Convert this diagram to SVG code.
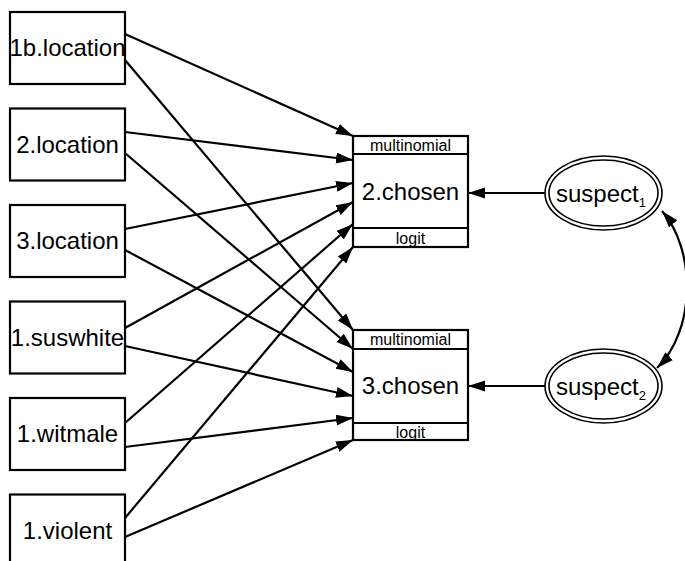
<svg xmlns="http://www.w3.org/2000/svg" width="685" height="561" viewBox="0 0 685 561">
<style>
.box{fill:#fff;stroke:#000;stroke-width:2.2}
.t{font-family:"Liberation Sans",Arial,sans-serif;font-size:24px;fill:#000;text-anchor:middle}
.s{font-family:"Liberation Sans",Arial,sans-serif;font-size:16px;fill:#000;text-anchor:middle}
.sub{font-size:13px}
.e{fill:none;stroke:#000;stroke-width:2.2;marker-end:url(#ah)}
.c{fill:none;stroke:#000;stroke-width:2.2;marker-start:url(#ah);marker-end:url(#ah)}
</style>
<defs>
<marker id="ah" markerWidth="19" markerHeight="12" refX="17" refY="5.5" orient="auto-start-reverse" markerUnits="userSpaceOnUse">
<path d="M0,0 L17,5.5 L0,11 z" fill="#000"/>
</marker>
</defs>
<rect width="685" height="561" fill="#fff"/>
<g id="connectors">
<line class="e" x1="125" y1="34" x2="353" y2="136"/>
<line class="e" x1="125" y1="60" x2="353" y2="330"/>
<line class="e" x1="125" y1="132" x2="353" y2="160"/>
<line class="e" x1="125" y1="153" x2="353" y2="349"/>
<line class="e" x1="125" y1="229" x2="353" y2="183"/>
<line class="e" x1="125" y1="250" x2="353" y2="372"/>
<line class="e" x1="125" y1="328" x2="353" y2="202"/>
<line class="e" x1="125" y1="346" x2="353" y2="396"/>
<line class="e" x1="125" y1="423" x2="353" y2="224"/>
<line class="e" x1="125" y1="447" x2="353" y2="418"/>
<line class="e" x1="125" y1="518" x2="353" y2="247"/>
<line class="e" x1="125" y1="537" x2="353" y2="440"/>
<line class="e" x1="545" y1="193" x2="468" y2="193"/>
<line class="e" x1="545" y1="386" x2="468" y2="386"/>
<path class="c" d="M662,211 C696,250 696,330 657,368"/>
</g>
<g id="n_1blocation"><rect class="box" x="10" y="12" width="115" height="72"/><text class="t" x="67.5" y="56">1b.location</text></g>
<g id="n_2location"><rect class="box" x="10" y="108.5" width="115" height="72"/><text class="t" x="67.5" y="152.5">2.location</text></g>
<g id="n_3location"><rect class="box" x="10" y="205" width="115" height="72"/><text class="t" x="67.5" y="249">3.location</text></g>
<g id="n_1suswhite"><rect class="box" x="10" y="301.5" width="115" height="72"/><text class="t" x="67.5" y="345.5">1.suswhite</text></g>
<g id="n_1witmale"><rect class="box" x="10" y="398" width="115" height="72"/><text class="t" x="67.5" y="442">1.witmale</text></g>
<g id="n_1violent"><rect class="box" x="10" y="494.5" width="115" height="72"/><text class="t" x="67.5" y="538.5">1.violent</text></g>
<g id="n_2chosen">
<rect class="box" x="353" y="136" width="115" height="111"/>
<line x1="353" y1="154" x2="468" y2="154" stroke="#000" stroke-width="2.2"/>
<line x1="353" y1="228" x2="468" y2="228" stroke="#000" stroke-width="2.2"/>
<text class="s" x="410.5" y="150.5">multinomial</text>
<text class="t" x="410.5" y="200">2.chosen</text>
<text class="s" x="410.5" y="243.5">logit</text>
</g>
<g id="n_3chosen">
<rect class="box" x="353" y="330" width="115" height="110"/>
<line x1="353" y1="349" x2="468" y2="349" stroke="#000" stroke-width="2.2"/>
<line x1="353" y1="423" x2="468" y2="423" stroke="#000" stroke-width="2.2"/>
<text class="s" x="410.5" y="345">multinomial</text>
<text class="t" x="410.5" y="394">3.chosen</text>
<text class="s" x="410.5" y="437.5">logit</text>
</g>
<g id="n_suspect1">
<ellipse cx="603.5" cy="193" rx="58.5" ry="37" fill="#fff" stroke="#000" stroke-width="1.6"/>
<ellipse cx="603.5" cy="193" rx="54.5" ry="33" fill="none" stroke="#000" stroke-width="1.6"/>
<text class="t" x="601" y="202">suspect<tspan class="sub" dy="5">1</tspan></text>
</g>
<g id="n_suspect2">
<ellipse cx="603.5" cy="386" rx="58.5" ry="37" fill="#fff" stroke="#000" stroke-width="1.6"/>
<ellipse cx="603.5" cy="386" rx="54.5" ry="33" fill="none" stroke="#000" stroke-width="1.6"/>
<text class="t" x="601" y="395">suspect<tspan class="sub" dy="5">2</tspan></text>
</g>
</svg>
